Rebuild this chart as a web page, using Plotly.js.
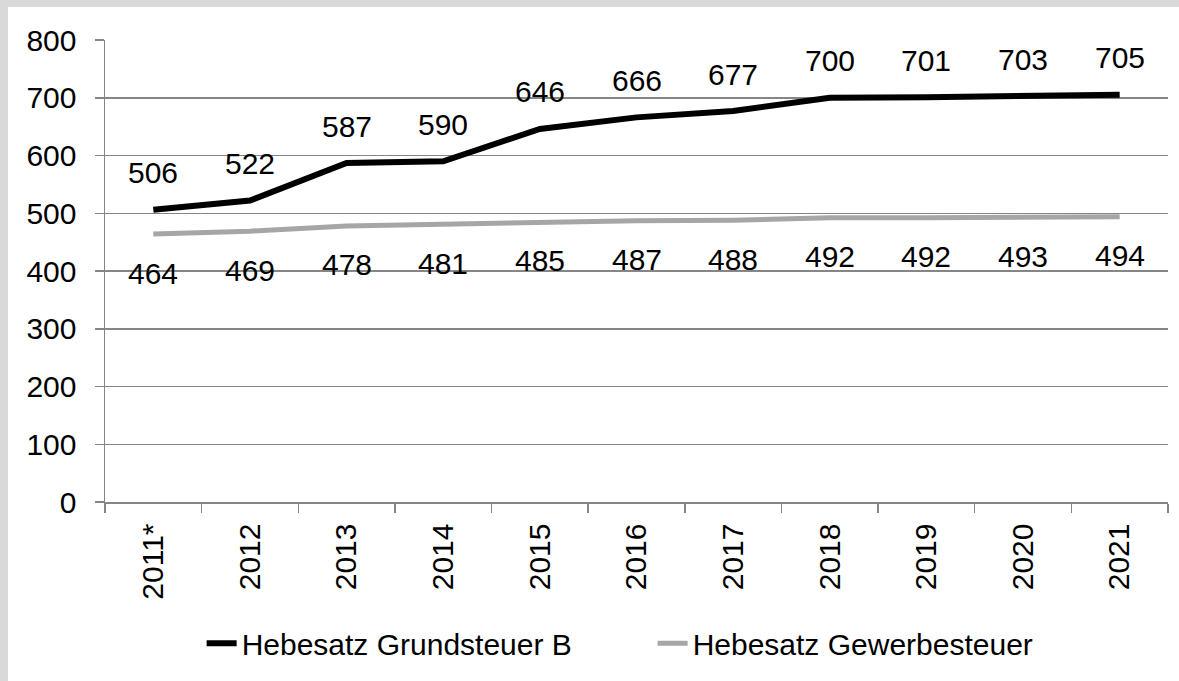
<!DOCTYPE html>
<html>
<head>
<meta charset="utf-8">
<script src="https://cdn.plot.ly/plotly-3.0.1.min.js"></script>
<style>
  html, body { margin: 0; padding: 0; width: 1179px; height: 681px; background: #d9d9d9; overflow: hidden; }
  #chart { position: absolute; left: 8px; top: 7px; width: 1171px; height: 674px; background: #ffffff; }
</style>
</head>
<body>
<div id="chart"></div>
<script>
const categories = ["2011*", "2012", "2013", "2014", "2015", "2016", "2017", "2018", "2019", "2020", "2021"];
const grundsteuerB = [506, 522, 587, 590, 646, 666, 677, 700, 701, 703, 705];
const gewerbesteuer = [464, 469, 478, 481, 485, 487, 488, 492, 492, 493, 494];
const seriesNames = ["Hebesatz Grundsteuer B", "Hebesatz Gewerbesteuer"];
const yTicks = [0, 100, 200, 300, 400, 500, 600, 700, 800];

const FONT = "Liberation Sans, Arial, sans-serif";
const FS = 30;
const AXIS_COLOR = "#868686";

const traces = [
  {
    x: categories, y: grundsteuerB, name: seriesNames[0], type: "scatter", mode: "lines",
    line: { color: "#000000", width: 6 }, hoverinfo: "skip"
  },
  {
    x: categories, y: gewerbesteuer, name: seriesNames[1], type: "scatter", mode: "lines",
    line: { color: "#a6a6a6", width: 5 }, hoverinfo: "skip"
  }
];

// category axis: annotation x given as category index (numeric-looking names would be misread)
const annotations = [];
categories.forEach((c, i) => {
  annotations.push({
    x: i, y: grundsteuerB[i], xref: "x", yref: "y", text: String(grundsteuerB[i]),
    showarrow: false, yshift: 37, font: { family: FONT, size: FS, color: "#000000" }
  });
  annotations.push({
    x: i, y: gewerbesteuer[i], xref: "x", yref: "y", text: String(gewerbesteuer[i]),
    showarrow: false, yshift: -39, font: { family: FONT, size: FS, color: "#000000" }
  });
});

const layout = {
  width: 1171, height: 674,
  margin: { l: 97, r: 11, t: 33, b: 179, pad: 0 },
  paper_bgcolor: "#ffffff", plot_bgcolor: "#ffffff",
  font: { family: FONT, size: FS, color: "#000000" },
  showlegend: true,
  legend: {
    orientation: "h", xref: "container", yref: "container",
    x: 0.5505, xanchor: "center", y: 0.056, yanchor: "middle",
    entrywidth: 406,
    font: { family: FONT, size: FS, color: "#000000" },
    bgcolor: "rgba(0,0,0,0)"
  },
  xaxis: {
    type: "category", range: [-0.5, categories.length - 0.5],
    tickson: "boundaries", ticks: "outside", ticklen: 9, tickwidth: 1.5, tickcolor: AXIS_COLOR,
    showline: true, linecolor: AXIS_COLOR, linewidth: 1.5,
    showgrid: false, zeroline: false, tickangle: -90,
    tickfont: { family: FONT, size: FS, color: "#000000" },
    ticklabelstandoff: 8, fixedrange: true
  },
  yaxis: {
    range: [0, 800], tickvals: yTicks, ticktext: yTicks.map(String),
    ticks: "outside", ticklen: 9, tickwidth: 1.5, tickcolor: AXIS_COLOR,
    showline: true, linecolor: AXIS_COLOR, linewidth: 1.5,
    showgrid: true, gridcolor: AXIS_COLOR, gridwidth: 1.5, zeroline: false,
    tickfont: { family: FONT, size: FS, color: "#000000" },
    ticklabelstandoff: 12, fixedrange: true
  },
  annotations: annotations
};

Plotly.newPlot("chart", traces, layout, { displayModeBar: false, staticPlot: true });
</script>
</body>
</html>
